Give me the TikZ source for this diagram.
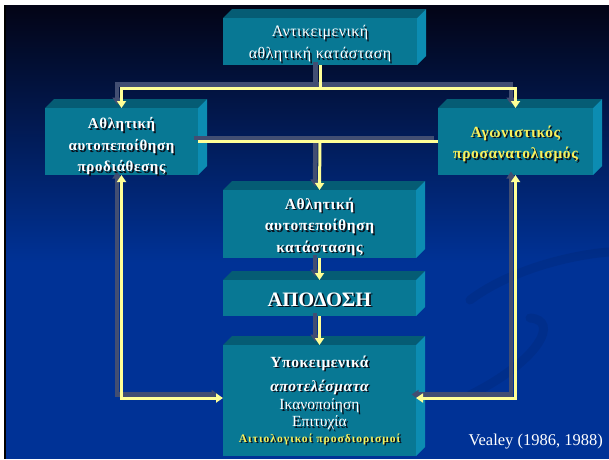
\documentclass[tikz,border=0pt]{standalone}
\usepackage{fontspec}
\setmainfont{Liberation Serif}
\newfontfamily\widebf[LetterSpace=4]{Liberation Serif}
\newfontfamily\smallwide[LetterSpace=9]{Liberation Serif}
\newfontfamily\regwide[LetterSpace=3]{Liberation Serif}
\usetikzlibrary{arrows.meta,calc}

\definecolor{bgtop}{RGB}{3,4,22}
\definecolor{bgmid}{RGB}{0,30,102}
\definecolor{bgbot}{RGB}{0,50,150}
\definecolor{slabfront}{RGB}{8,120,148}
\definecolor{slabtop}{RGB}{5,92,116}
\definecolor{slabside}{RGB}{12,140,178}
\definecolor{linkyellow}{RGB}{255,255,150}
\definecolor{linkshadow}{RGB}{66,78,114}
\definecolor{textshadow}{RGB}{8,16,28}
\definecolor{labelyellow}{RGB}{250,240,90}

% a slab: front face as a named node, top and right faces drawn behind it
\newcommand\slab[5]{%
  \fill[slabtop] (#2,#3) -- (#2+9,#3-9) -- (#4+9,#3-9) -- (#4,#3) -- cycle;
  \fill[slabside] (#4,#3) -- (#4+9,#3-9) -- (#4+9,#5-9) -- (#4,#5) -- cycle;
  \node[slabface, minimum width=#4-#2, minimum height=#5-#3, anchor=north west] (#1) at (#2,#3) {};
}
% text with a dark drop shadow: name, anchor, offset, style, text
\newcommand\stext[5]{%
  \node[slabtext,#4,text=textshadow] at ($(#2)+(#3)+(1.6,1.6)$) {#5};
  \node[slabtext,#4] (#1) at ($(#2)+(#3)$) {#5};
}
% all connectors, drawn once as shadow and once in yellow
\newcommand\links[1]{%
  \draw[#1] (b1.south) -- (jT);
  \draw[#1,tipend] (jT) -- (jL) -- (b2.north);
  \draw[#1,tipend] (jT) -- (jR) -- (b3.north);
  \draw[#1] (b2.east) -- (b3.west);
  \draw[#1,tipend] (jM) -- (b4.north);
  \draw[#1,tipend] (b4.south) -- (b5.north);
  \draw[#1,tipend] (b5.south) -- (b6.north);
  \draw[#1,tipboth] (b2.south) -- (cL) -- (cL -| b6.west);
  \draw[#1,tipboth] (b3.south) -- (cR) -- (cR -| b6.east);
}

\begin{document}
\begin{tikzpicture}[x=1pt,y=-1pt,
  slabface/.style={fill=slabfront, inner sep=0pt, outer sep=0pt},
  slabtext/.style={text=white, align=center, inner sep=0pt},
  regtext/.style={font=\regwide\fontsize{16}{22}\selectfont},
  boldtext/.style={font=\widebf\bfseries\fontsize{15.5}{21.5}\selectfont},
  linkshade/.style={draw=linkshadow, line width=4.5pt,
    transform canvas={shift={(-4.5pt,3.5pt)}}},
  linkline/.style={draw=linkyellow, line width=3pt},
  tipend/.style={-{Triangle[width=9pt,length=7pt]}},
  tipboth/.style={{Triangle[width=9pt,length=7pt]}-{Triangle[width=9pt,length=7pt]}},
  swoosh/.style={draw=black, opacity=0.07, line width=9pt, line cap=round}]

% slide background
\fill[white] (0,0) rectangle (609,459);
\shade[top color=bgtop, middle color=bgmid, bottom color=bgbot] (6,5) rectangle (609,262);
\fill[bgbot] (6,261.5) rectangle (609,459);
\fill[black] (3.5,5) rectangle (6,459);
\useasboundingbox (0,0) rectangle (609,459);

% faint background swirl
\draw[swoosh] (470,300) .. controls (510,270) and (570,255) .. (609,252);
\draw[swoosh] (470,395) .. controls (540,360) and (560,320) .. (530,318);

% slabs
\slab{b1}{223}{18}{417}{65}
\slab{b2}{45}{108}{198}{175}
\slab{b3}{438}{108}{593}{175}
\slab{b4}{223}{190}{416}{258}
\slab{b5}{223}{280}{416}{316}
\slab{b6}{223}{345}{416}{456}

% connector junctions
\coordinate (jT) at ($(b1.south)+(0,23)$);
\coordinate (jL) at (b2.north |- jT);
\coordinate (jR) at (b3.north |- jT);
\coordinate (jM) at (b1.south |- b2.east);
\coordinate (cL) at (b2.south |- 0,398);
\coordinate (cR) at (b3.south |- 0,398);

\links{linkshade}
\links{linkline}

% labels
\stext{t1}{b1.center}{0,2}{regtext}{Αντικειμενική\\αθλητική κατάσταση}
\stext{t2}{b2.center}{0,5}{font=\widebf\bfseries\fontsize{15}{21.5}\selectfont}{Αθλητική\\αυτοπεποίθηση\\προδιάθεσης}
\stext{t3}{b3.center}{0,2.5}{boldtext,text=labelyellow}{Αγωνιστικός\\προσανατολισμός}
\stext{t4}{b4.center}{0,2.5}{boldtext}{Αθλητική\\αυτοπεποίθηση\\κατάστασης}
\stext{t5}{b5.center}{0,1.5}{font=\bfseries\fontsize{20.5}{24}\selectfont}{ΑΠΟΔΟΣΗ}
\stext{t6a}{b6.north}{0,18}{boldtext}{Υποκειμενικά}
\stext{t6b}{b6.north}{0,42}{font=\widebf\bfseries\itshape\fontsize{15.5}{21.5}\selectfont}{αποτελέσματα}
\stext{t6c}{b6.north}{0,61}{font=\fontsize{15.5}{18}\selectfont}{Ικανοποίηση}
\stext{t6d}{b6.north}{0,78}{font=\fontsize{15.5}{18}\selectfont}{Επιτυχία}
\stext{t6e}{b6.north}{0,94}{text=labelyellow,font=\smallwide\bfseries\fontsize{11.5}{14}\selectfont}{Αιτιολογικοί προσδιορισμοί}

\node[text=white, font=\fontsize{16.5}{18}\selectfont, anchor=east, inner sep=0pt] (cite) at (603,442) {Vealey (1986, 1988)};
\end{tikzpicture}
\end{document}
